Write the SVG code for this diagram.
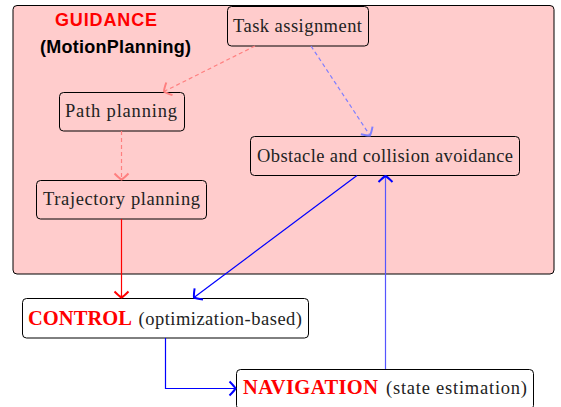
<svg xmlns="http://www.w3.org/2000/svg" width="561" height="407" viewBox="0 0 561 407">
<defs>
<style>
.box{fill:none;stroke:#000;stroke-width:1}
.wbox{fill:#fff;stroke:#000;stroke-width:1}
.t{font-family:"Liberation Serif",serif;font-size:18.5px;fill:#222}
.r{fill:#ff0000;font-weight:bold;font-size:20.5px}
.s{font-family:"Liberation Sans","DejaVu Sans",sans-serif;font-weight:bold;font-size:18px}
.c{fill:none;stroke-width:1.2}
</style>
<marker id="aR" markerUnits="userSpaceOnUse" markerWidth="16" markerHeight="18" viewBox="-9 -9 11 18" refX="0" refY="0" orient="auto"><path d="M-6,-7 Q-1,-2 0,0 Q-1,2 -6,7" fill="none" stroke="#ff0000" stroke-width="2"/></marker>
<marker id="aLR" markerUnits="userSpaceOnUse" markerWidth="16" markerHeight="18" viewBox="-9 -9 11 18" refX="0" refY="0" orient="auto"><path d="M-6,-7 Q-1,-2 0,0 Q-1,2 -6,7" fill="none" stroke="#ff7f7f" stroke-width="2"/></marker>
<marker id="aB" markerUnits="userSpaceOnUse" markerWidth="16" markerHeight="18" viewBox="-9 -9 11 18" refX="0" refY="0" orient="auto"><path d="M-6,-7 Q-1,-2 0,0 Q-1,2 -6,7" fill="none" stroke="#0000ff" stroke-width="2"/></marker>
<marker id="aLB" markerUnits="userSpaceOnUse" markerWidth="16" markerHeight="18" viewBox="-9 -9 11 18" refX="0" refY="0" orient="auto"><path d="M-6,-7 Q-1,-2 0,0 Q-1,2 -6,7" fill="none" stroke="#7f7fff" stroke-width="2"/></marker>
</defs>
<rect width="561" height="407" fill="#fff"/>
<g id="guidance">
<rect x="13" y="5.5" width="541" height="268.5" rx="4" fill="#ffcccc" stroke="#000" stroke-width="1"/>
<text x="55" y="26" class="s" fill="#ff0000" textLength="102">GUIDANCE</text>
<text x="40" y="53" class="s" fill="#000" textLength="151">(MotionPlanning)</text>
</g>
<g id="task">
<rect class="box" x="227.5" y="6.5" width="141" height="39.5" rx="4"/>
<text class="t" x="233" y="32" textLength="129">Task assignment</text>
</g>
<g id="path">
<rect class="box" x="59.5" y="92.5" width="125" height="38.5" rx="4"/>
<text class="t" x="65" y="117" textLength="112">Path planning</text>
</g>
<g id="trajectory">
<rect class="box" x="36.5" y="180.5" width="170" height="38.5" rx="4"/>
<text class="t" x="43" y="205" textLength="157">Trajectory planning</text>
</g>
<g id="obstacle">
<rect class="box" x="250.5" y="136.5" width="269" height="39" rx="4"/>
<text class="t" x="257" y="162" textLength="256">Obstacle and collision avoidance</text>
</g>
<g id="control">
<rect class="wbox" x="22.5" y="298.5" width="286" height="39.5" rx="4"/>
<text class="t r" x="28" y="324.5" textLength="104">CONTROL</text>
<text class="t" x="138.5" y="324.5" textLength="163.5">(optimization-based)</text>
</g>
<g id="navigation">
<rect class="wbox" x="236.5" y="369.5" width="297" height="40" rx="4"/>
<text class="t r" x="243" y="393.5" textLength="135">NAVIGATION</text>
<text class="t" x="386" y="393.5" textLength="141">(state estimation)</text>
</g>
<g id="connectors">
<line class="c" x1="255" y1="46" x2="164" y2="91.5" stroke="#ff7f7f" stroke-dasharray="4,3" marker-end="url(#aLR)"/>
<line class="c" x1="311" y1="46" x2="370" y2="135.5" stroke="#7f7fff" stroke-dasharray="4,3" marker-end="url(#aLB)"/>
<line class="c" x1="121.5" y1="131" x2="121.5" y2="179.5" stroke="#ff7f7f" stroke-dasharray="4,3" marker-end="url(#aLR)"/>
<line class="c" x1="121.5" y1="219" x2="121.5" y2="297.5" stroke="#ff0000" marker-end="url(#aR)"/>
<line class="c" x1="357" y1="175.5" x2="194" y2="297.5" stroke="#0000ff" marker-end="url(#aB)"/>
<polyline class="c" points="165.5,338 165.5,388.5 235.5,388.5" stroke="#0000ff" marker-end="url(#aB)"/>
<line class="c" x1="385.5" y1="369" x2="385.5" y2="176" stroke="#5555ff" marker-end="url(#aB)"/>
</g>
</svg>
